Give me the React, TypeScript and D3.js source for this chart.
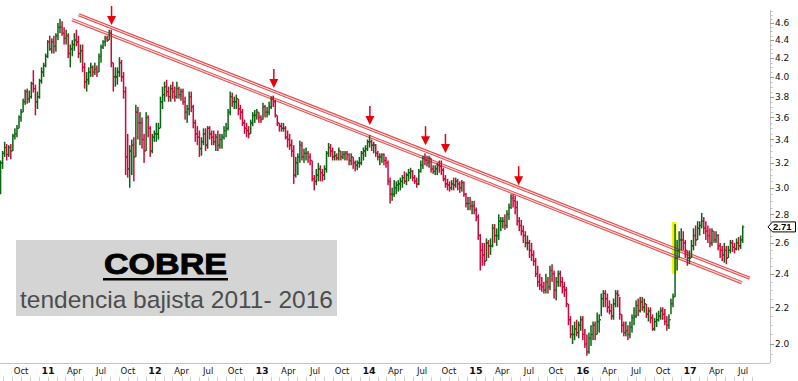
import React from "react";
import * as d3 from "d3";

// Weekly bars [high, low, close], weeks ending Fridays, first week = 23 Jul 2010
const firstOpen = 2.95;
const bars2010 = [
  [3.22,2.95,3.20],[3.30,3.15,3.28],[3.38,3.25,3.33],[3.36,3.22,3.27],[3.35,3.25,3.33],[3.36,3.23,3.30],
  [3.45,3.30,3.43],[3.50,3.40,3.45],[3.53,3.42,3.50],[3.62,3.50,3.60],[3.68,3.56,3.65],[3.78,3.65,3.75],
  [3.87,3.72,3.85],[3.88,3.73,3.78],[3.86,3.74,3.80],[3.95,3.78,3.93],[4.07,3.84,3.88],[3.92,3.62,3.75],
  [3.85,3.68,3.80],[3.98,3.78,3.96],[4.10,3.93,4.05],[4.15,4.00,4.12],[4.25,4.10,4.22],[4.40,4.20,4.38],
];
const bars2011 = [
  [4.45,4.28,4.30],[4.42,4.25,4.38],[4.45,4.25,4.33],[4.48,4.27,4.45],[4.60,4.40,4.55],[4.65,4.48,4.55],
  [4.62,4.45,4.48],[4.55,4.35,4.42],[4.52,4.35,4.45],[4.48,4.20,4.25],[4.35,4.10,4.30],[4.40,4.22,4.35],
  [4.48,4.28,4.40],[4.52,4.33,4.38],[4.45,4.20,4.25],[4.35,4.15,4.28],[4.35,4.05,4.10],[4.15,3.88,3.95],
  [4.05,3.85,3.97],[4.10,3.92,4.05],[4.15,4.00,4.10],[4.12,4.00,4.05],[4.15,4.02,4.08],[4.12,4.00,4.05],
  [4.25,4.05,4.22],[4.35,4.15,4.32],[4.40,4.30,4.38],[4.45,4.33,4.42],[4.45,4.38,4.40],[4.52,4.40,4.48],
  [4.52,4.10,4.15],[4.15,3.85,4.00],[4.10,3.90,4.00],[4.10,3.92,4.05],[4.21,4.00,4.15],[4.18,3.95,4.00],
  [4.05,3.78,3.85],[3.90,3.10,3.25],[3.45,3.08,3.15],[3.35,3.00,3.30],[3.40,3.10,3.35],[3.42,3.05,3.25],
  [3.72,3.25,3.65],[3.70,3.40,3.55],[3.65,3.35,3.55],[3.60,3.32,3.40],[3.45,3.20,3.30],[3.65,3.30,3.60],
  [3.62,3.42,3.50],[3.52,3.25,3.30],[3.45,3.28,3.42],[3.48,3.38,3.45],
];
const bars2012 = [
  [3.55,3.38,3.45],[3.55,3.40,3.50],[3.80,3.50,3.75],[3.90,3.68,3.82],[3.95,3.75,3.90],[3.97,3.80,3.85],
  [3.90,3.75,3.80],[3.92,3.75,3.88],[3.95,3.78,3.85],[3.90,3.75,3.80],[3.95,3.78,3.88],[3.90,3.78,3.82],
  [3.88,3.76,3.85],[3.88,3.72,3.75],[3.80,3.58,3.65],[3.72,3.55,3.68],[3.85,3.62,3.80],[3.85,3.65,3.70],
  [3.72,3.50,3.55],[3.58,3.38,3.45],[3.52,3.35,3.42],[3.48,3.25,3.32],[3.42,3.26,3.38],[3.50,3.35,3.45],
  [3.50,3.30,3.35],[3.52,3.32,3.50],[3.52,3.40,3.45],[3.48,3.35,3.42],[3.48,3.35,3.38],[3.45,3.30,3.42],
  [3.48,3.30,3.35],[3.45,3.32,3.40],[3.45,3.32,3.42],[3.52,3.40,3.48],[3.55,3.42,3.50],[3.68,3.48,3.65],
  [3.85,3.62,3.80],[3.84,3.70,3.75],[3.80,3.68,3.75],[3.82,3.68,3.78],[3.78,3.62,3.68],[3.72,3.58,3.65],
  [3.68,3.52,3.55],[3.58,3.45,3.50],[3.55,3.42,3.48],[3.52,3.41,3.45],[3.58,3.45,3.55],[3.65,3.52,3.62],
  [3.67,3.55,3.62],[3.68,3.58,3.65],[3.65,3.55,3.60],[3.62,3.55,3.58],
];
const bars2013 = [
  [3.74,3.58,3.70],[3.72,3.60,3.65],[3.70,3.60,3.65],[3.75,3.62,3.70],[3.80,3.68,3.78],[3.81,3.70,3.75],
  [3.77,3.60,3.62],[3.62,3.52,3.55],[3.55,3.47,3.52],[3.55,3.47,3.50],[3.55,3.47,3.50],[3.52,3.40,3.42],
  [3.48,3.33,3.40],[3.45,3.31,3.35],[3.40,3.25,3.30],[3.35,3.03,3.10],[3.25,3.08,3.20],[3.28,3.10,3.25],
  [3.39,3.20,3.35],[3.38,3.22,3.25],[3.32,3.20,3.28],[3.33,3.22,3.28],[3.30,3.20,3.25],[3.28,3.18,3.22],
  [3.22,3.05,3.07],[3.10,2.98,3.05],[3.15,3.02,3.10],[3.20,3.05,3.15],[3.18,3.05,3.12],[3.15,3.05,3.10],
  [3.18,3.06,3.15],[3.30,3.12,3.28],[3.37,3.25,3.33],[3.36,3.25,3.30],[3.33,3.22,3.25],[3.30,3.22,3.26],
  [3.28,3.22,3.24],[3.33,3.22,3.30],[3.30,3.22,3.25],[3.30,3.23,3.27],[3.30,3.22,3.28],[3.30,3.22,3.27],
  [3.28,3.18,3.22],[3.28,3.18,3.25],[3.25,3.15,3.20],[3.22,3.13,3.18],[3.22,3.14,3.20],[3.25,3.16,3.20],
  [3.30,3.18,3.28],[3.33,3.22,3.30],[3.35,3.25,3.32],[3.40,3.30,3.38],
];
const bars2014 = [
  [3.44,3.33,3.38],[3.40,3.30,3.35],[3.38,3.28,3.35],[3.36,3.25,3.28],[3.30,3.22,3.25],[3.28,3.18,3.25],
  [3.28,3.20,3.27],[3.28,3.18,3.22],[3.25,3.16,3.20],[3.22,3.02,3.05],[3.08,2.88,2.95],[3.00,2.90,2.95],
  [3.06,2.93,3.00],[3.05,2.95,3.02],[3.06,2.97,3.03],[3.08,2.98,3.05],[3.10,3.00,3.08],[3.13,3.03,3.05],
  [3.12,3.02,3.10],[3.15,3.05,3.12],[3.16,3.07,3.13],[3.14,3.05,3.08],[3.10,3.03,3.05],[3.08,3.00,3.03],
  [3.15,3.02,3.13],[3.22,3.12,3.18],[3.26,3.15,3.24],[3.28,3.18,3.22],[3.26,3.17,3.20],[3.26,3.16,3.24],
  [3.24,3.12,3.15],[3.18,3.11,3.13],[3.18,3.10,3.15],[3.20,3.10,3.18],[3.22,3.12,3.17],[3.22,3.10,3.14],
  [3.16,3.05,3.07],[3.10,3.00,3.03],[3.07,2.98,3.02],[3.05,2.97,3.00],[3.06,2.98,3.03],[3.08,2.98,3.02],
  [3.08,3.00,3.05],[3.07,2.98,3.03],[3.05,2.96,3.00],[3.06,2.97,3.04],[3.05,2.93,2.95],[2.96,2.85,2.88],
  [2.93,2.83,2.88],[2.93,2.83,2.86],[2.90,2.80,2.86],[2.90,2.80,2.83],
];
const bars2015 = [
  [2.85,2.75,2.78],[2.80,2.62,2.65],[2.66,2.42,2.55],[2.60,2.45,2.52],[2.60,2.45,2.48],[2.63,2.48,2.60],
  [2.62,2.50,2.58],[2.63,2.52,2.58],[2.73,2.57,2.70],[2.73,2.60,2.65],[2.70,2.58,2.65],[2.80,2.62,2.75],
  [2.78,2.68,2.75],[2.78,2.70,2.75],[2.80,2.69,2.72],[2.83,2.70,2.80],[2.88,2.76,2.85],[2.95,2.84,2.92],
  [2.95,2.85,2.90],[2.94,2.80,2.85],[2.90,2.72,2.75],[2.78,2.68,2.72],[2.76,2.65,2.68],[2.72,2.60,2.65],
  [2.68,2.57,2.60],[2.65,2.55,2.60],[2.62,2.50,2.55],[2.60,2.48,2.52],[2.55,2.45,2.48],[2.50,2.38,2.40],
  [2.45,2.32,2.35],[2.40,2.30,2.33],[2.38,2.29,2.32],[2.35,2.28,2.30],[2.40,2.28,2.35],[2.38,2.28,2.32],
  [2.45,2.30,2.42],[2.46,2.35,2.40],[2.42,2.25,2.30],[2.38,2.24,2.35],[2.42,2.32,2.40],[2.42,2.32,2.35],
  [2.38,2.28,2.32],[2.35,2.26,2.30],[2.32,2.20,2.22],[2.22,2.10,2.13],[2.15,2.03,2.05],[2.10,2.00,2.05],
  [2.12,2.02,2.08],[2.13,2.04,2.06],[2.12,2.03,2.10],[2.15,2.07,2.13],
];
const bars2016 = [
  [2.15,2.02,2.05],[2.08,1.98,2.00],[2.05,1.94,1.96],[2.06,1.95,2.03],[2.10,1.99,2.05],[2.12,2.02,2.10],
  [2.12,2.02,2.05],[2.17,2.05,2.12],[2.16,2.06,2.13],[2.28,2.15,2.25],[2.30,2.20,2.28],[2.30,2.20,2.25],
  [2.28,2.17,2.20],[2.24,2.16,2.18],[2.22,2.13,2.15],[2.25,2.13,2.22],[2.30,2.20,2.28],[2.30,2.20,2.27],
  [2.26,2.13,2.16],[2.16,2.06,2.10],[2.12,2.04,2.06],[2.12,2.04,2.07],[2.10,2.02,2.05],[2.12,2.03,2.09],
  [2.16,2.06,2.14],[2.20,2.10,2.15],[2.24,2.14,2.21],[2.25,2.15,2.18],[2.26,2.17,2.23],[2.26,2.18,2.20],
  [2.25,2.17,2.22],[2.22,2.14,2.16],[2.20,2.12,2.18],[2.20,2.11,2.14],[2.16,2.07,2.08],[2.14,2.07,2.12],
  [2.17,2.09,2.13],[2.18,2.12,2.15],[2.20,2.13,2.18],[2.20,2.13,2.16],[2.19,2.10,2.12],[2.15,2.07,2.10],
  [2.16,2.08,2.13],[2.25,2.16,2.22],[2.28,2.20,2.26],[2.73,2.26,2.50],[2.62,2.42,2.55],[2.68,2.50,2.62],
  [2.70,2.55,2.62],[2.68,2.55,2.60],[2.62,2.50,2.55],[2.55,2.45,2.50],[2.55,2.46,2.50],
];
const bars2017 = [
  [2.62,2.50,2.58],[2.70,2.55,2.65],[2.72,2.58,2.62],[2.75,2.62,2.70],[2.75,2.65,2.72],[2.81,2.70,2.75],
  [2.78,2.66,2.70],[2.75,2.62,2.68],[2.72,2.60,2.65],[2.70,2.57,2.60],[2.70,2.58,2.68],[2.68,2.60,2.62],
  [2.68,2.60,2.65],[2.66,2.55,2.58],[2.60,2.50,2.55],[2.58,2.48,2.52],[2.60,2.47,2.55],[2.58,2.46,2.50],
  [2.58,2.50,2.55],[2.62,2.53,2.60],[2.62,2.54,2.57],[2.60,2.53,2.56],[2.63,2.55,2.60],[2.64,2.55,2.58],
  [2.65,2.56,2.62],[2.72,2.60,2.71],
];

const yTickValues = [2.0, 2.2, 2.4, 2.6, 2.8, 3.0, 3.2, 3.4, 3.6, 3.8, 4.0, 4.2, 4.4, 4.6];
const xTickLabels = ["Jul","Oct","11","Apr","Jul","Oct","12","Apr","Jul","Oct","13","Apr","Jul","Oct","14",
  "Apr","Jul","Oct","15","Apr","Jul","Oct","16","Apr","Jul","Oct","17","Apr","Jul"];

// trend channel lines [date, price]
const trendUpper = [["2011-04-16", 4.70], ["2017-07-24", 2.372]];
const trendLower = [["2011-03-24", 4.64], ["2017-06-27", 2.345]];
// arrows: date and tip price
const arrowDates = ["2011-08-06", "2013-02-10", "2014-01-04", "2014-07-13", "2014-09-19", "2015-05-27"];
const arrowTips = [4.576, 3.886, 3.53, 3.35, 3.283, 3.02];
// highlight box
const highlightDates = ["2016-10-31", "2016-11-16"];
const highlightPrices = [2.40, 2.745];

const title = "COBRE";
const subtitle = "tendencia bajista 2011- 2016";

const UP = "#0a6410";
const DOWN = "#c80a3c";

const parse = d3.timeParse("%Y-%m-%d");

export default function App() {
  const W = 798, H = 381;
  const all = [...bars2010, ...bars2011, ...bars2012, ...bars2013, ...bars2014, ...bars2015, ...bars2016, ...bars2017];
  const start = new Date(2010, 6, 23);
  const weeks = all.map((b, i) => ({
    date: d3.timeDay.offset(start, 7 * i),
    high: b[0], low: b[1], close: b[2],
    open: i === 0 ? firstOpen : all[i - 1][2],
  }));

  const x = d3.scaleTime().domain([new Date(2011, 0, 1), new Date(2017, 0, 1)]).range([48, 690]);
  const y = d3.scaleLog().domain([2.0, 4.6]).range([344, 23]);

  const axisX = 770;
  const bottomY = 363;

  const xTicks = d3.timeMonth.range(new Date(2010, 6, 1), new Date(2017, 7, 2), 3);
  const monthTicks = d3.timeMonth.range(new Date(2010, 6, 1), new Date(2017, 7, 2), 1);
  const minorY = d3.range(39, 97).map((k) => k * 0.05).filter((v) => y(v) > 8 && y(v) < bottomY);

  const lastClose = weeks[weeks.length - 1].close;
  const ty = y(lastClose);

  const trendPath = (pts: any[]) => {
    const line = d3.line<any>().x((d) => x(parse(d[0])!)).y((d) => y(d[1]));
    return line(pts) || "";
  };

  const hx0 = x(parse(highlightDates[0])!);
  const hx1 = x(parse(highlightDates[1])!);

  return (
    <svg width={W} height={H} style={{ position: "absolute", left: 0, top: 0, background: "#fff" }}
      fontFamily="'DejaVu Sans', Verdana, sans-serif">
      <rect x={0} y={0} width={W} height={H} fill="#fff" />
      {/* highlight */}
      <rect x={hx0} y={y(highlightPrices[1])} width={hx1 - hx0} height={y(highlightPrices[0]) - y(highlightPrices[1])}
        fill="#f4f20c" />
      {/* trend lines */}
      {[trendUpper, trendLower].map((t, i) => (
        <g key={i}>
          <path d={trendPath(t)} stroke="#e04a4a" strokeWidth={3.2} fill="none" />
          <path d={trendPath(t)} stroke="#fcd6d6" strokeWidth={1.2} fill="none" />
        </g>
      ))}
      {/* bars */}
      <g>
        {weeks.map((w, i) => {
          const cx = x(w.date);
          const col = w.close >= w.open ? UP : DOWN;
          const yh = y(w.high);
          const yl = y(w.low);
          return (
            <g key={i} fill={col}>
              <rect x={cx - 0.75} y={yh} width={1.5} height={Math.max(1, yl - yh)} />
              <rect x={cx - 1.6} y={y(w.open) - 0.6} width={1.2} height={1.2} />
              <rect x={cx + 0.4} y={y(w.close) - 0.6} width={1.2} height={1.2} />
            </g>
          );
        })}
      </g>
      {/* arrows */}
      {arrowDates.map((d, i) => {
        const ax = x(parse(d)!);
        const ay = y(arrowTips[i]);
        return (
          <g key={i} fill="#e8000c" stroke="none">
            <rect x={ax - 0.75} y={ay - 19} width={1.5} height={12} />
            <path d={`M${ax - 4.5},${ay - 9} L${ax + 4.5},${ay - 9} L${ax},${ay} Z`} />
          </g>
        );
      })}
      {/* bottom border and right axis */}
      <line x1={0} x2={axisX} y1={bottomY + 0.5} y2={bottomY + 0.5} stroke="#c4c4c4" />
      <line x1={axisX + 0.5} x2={axisX + 0.5} y1={10} y2={bottomY} stroke="#c4c4c4" />
      {minorY.map((v, i) => (
        <line key={i} x1={axisX} x2={axisX + 2.5} y1={Math.round(y(v)) + 0.5} y2={Math.round(y(v)) + 0.5} stroke="#bdbdbd" />
      ))}
      {yTickValues.map((v) => (
        <g key={v}>
          <line x1={axisX} x2={axisX + 4} y1={Math.round(y(v)) + 0.5} y2={Math.round(y(v)) + 0.5} stroke="#999" />
          <text x={axisX + 5} y={y(v) + 3.3} fontSize={9} fill="#111">{v.toFixed(1)}</text>
        </g>
      ))}
      {/* last price tag */}
      <path d={`M${axisX - 2},${ty} L${axisX + 2.5},${ty - 5} L${W - 2.5},${ty - 5} L${W - 2.5},${ty + 5} L${axisX + 2.5},${ty + 5} Z`}
        fill="#fff" stroke="#000" strokeWidth={1} />
      <text x={axisX + 3} y={ty + 3.5} fontSize={9.5} fontWeight="bold" fontFamily="'Liberation Sans', Arial, sans-serif"
        fill="#000">{lastClose.toFixed(2)}</text>
      {/* x axis */}
      {monthTicks.map((d, i) => (
        <line key={i} x1={Math.round(x(d)) + 0.5} x2={Math.round(x(d)) + 0.5} y1={377} y2={381} stroke="#cfcfcf" />
      ))}
      {xTicks.map((d, i) => {
        const lab = xTickLabels[i];
        if (lab === undefined) return null;
        const isYear = /^\d+$/.test(lab);
        return (
          <text key={i} x={x(d)} y={374} fontSize={isYear ? 9.5 : 8.5} fontWeight={isYear ? "bold" : "normal"}
            textAnchor="middle" fill="#111">{lab}</text>
        );
      })}
      {/* label box */}
      <rect x={16} y={240} width={321} height={76} fill="#d4d4d4" />
      <text x={165.5} y={274} fontSize={29} fontWeight="bold" fontFamily="'Liberation Sans', Arial, sans-serif"
        textAnchor="middle" textLength={123} lengthAdjust="spacingAndGlyphs" fill="#000" stroke="#000" strokeWidth={0.9}>{title}</text>
      <rect x={103} y={278} width={125} height={2.5} fill="#000" />
      <text x={176.5} y={307.5} fontSize={24.5} fontFamily="'Liberation Sans', Arial, sans-serif"
        textAnchor="middle" textLength={313} lengthAdjust="spacingAndGlyphs" fill="#4d4d4d">{subtitle}</text>
    </svg>
  );
}
